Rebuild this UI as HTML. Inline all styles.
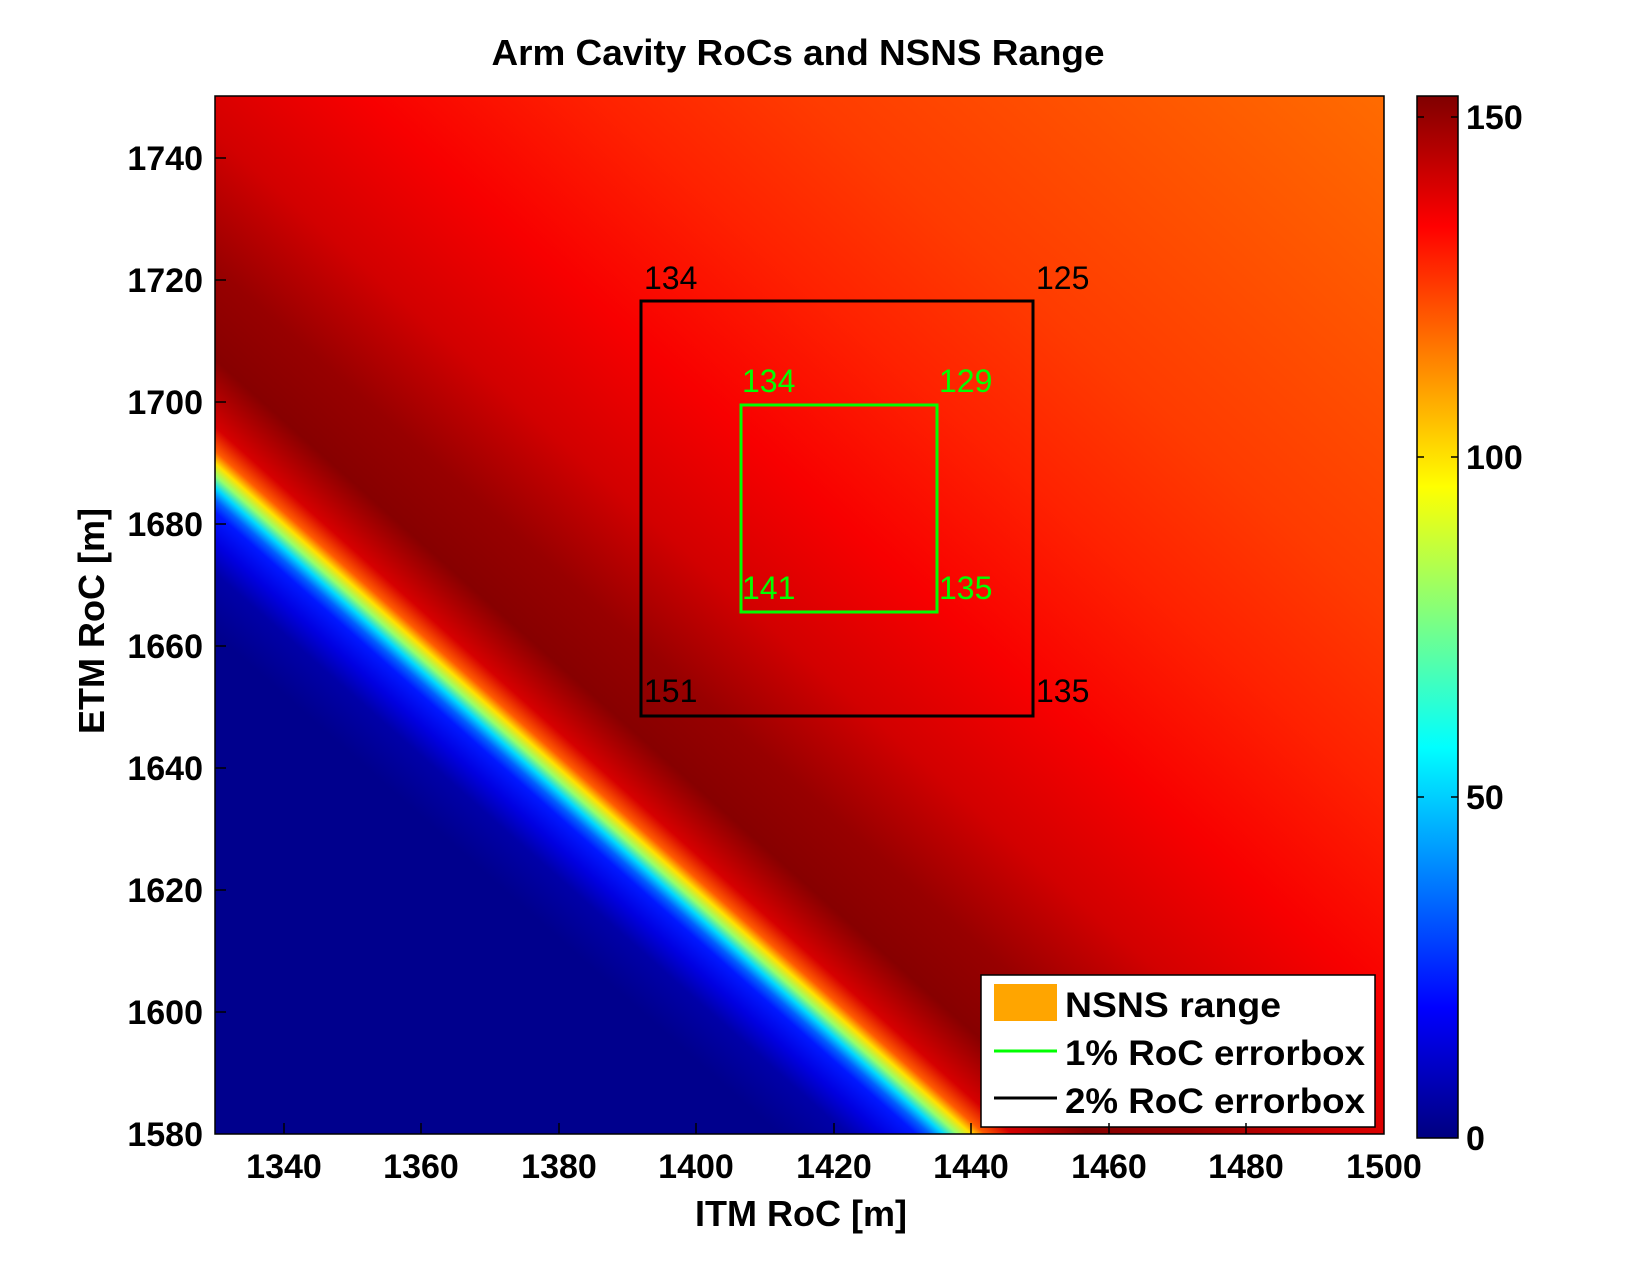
<!DOCTYPE html>
<html><head><meta charset="utf-8"><style>html,body{margin:0;padding:0;background:#fff}svg{display:block}</style></head>
<body>
<svg width="1650" height="1275" viewBox="0 0 1650 1275" xmlns="http://www.w3.org/2000/svg" font-family="Liberation Sans, Arial, sans-serif">
<defs>
<linearGradient id="hm" gradientUnits="userSpaceOnUse" x1="215" y1="634" x2="1033" y2="-288">
<stop offset="0" stop-color="#00008d"/>
<stop offset="0.0370" stop-color="#0000a8"/>
<stop offset="0.0556" stop-color="#0000e0"/>
<stop offset="0.0741" stop-color="#0018ff"/>
<stop offset="0.0815" stop-color="#0060ff"/>
<stop offset="0.0889" stop-color="#00d8ff"/>
<stop offset="0.0963" stop-color="#97ff69"/>
<stop offset="0.1037" stop-color="#ffe100"/>
<stop offset="0.1111" stop-color="#ff5c00"/>
<stop offset="0.1259" stop-color="#d60000"/>
<stop offset="0.1667" stop-color="#870000"/>
<stop offset="0.2222" stop-color="#980000"/>
<stop offset="0.3037" stop-color="#d20000"/>
<stop offset="0.4074" stop-color="#f80000"/>
<stop offset="0.5296" stop-color="#ff2100"/>
<stop offset="0.6444" stop-color="#ff3b00"/>
<stop offset="0.9556" stop-color="#ff6b00"/>
<stop offset="1" stop-color="#ff7000"/>
</linearGradient>
<linearGradient id="cb" x1="0" y1="1" x2="0" y2="0">
<stop offset="0" stop-color="#000080"/>
<stop offset="0.125" stop-color="#0000ff"/>
<stop offset="0.375" stop-color="#00ffff"/>
<stop offset="0.625" stop-color="#ffff00"/>
<stop offset="0.875" stop-color="#ff0000"/>
<stop offset="1" stop-color="#800000"/>
</linearGradient>
</defs>
<text x="798" y="65" font-size="36" font-weight="bold" text-anchor="middle" textLength="613" lengthAdjust="spacingAndGlyphs">Arm Cavity RoCs and NSNS Range</text>
<rect x="215" y="96" width="1169" height="1038" fill="url(#hm)"/>
<rect x="215" y="96" width="1169" height="1038" fill="none" stroke="#000" stroke-width="1.5"/>
<rect x="641" y="301" width="392" height="415" fill="none" stroke="#000" stroke-width="3"/>
<rect x="741" y="405" width="196" height="207" fill="none" stroke="#00ff00" stroke-width="3"/>
<g font-size="32">
<text x="644" y="289">134</text><text x="1036" y="289">125</text>
<text x="644" y="702">151</text><text x="1036" y="702">135</text>
<g fill="#00ff00"><text x="742" y="392">134</text><text x="939" y="392">129</text>
<text x="742" y="599">141</text><text x="939" y="599">135</text></g>
</g>
<rect x="981" y="975" width="394" height="152" fill="#fff" stroke="#000" stroke-width="1.5"/>
<rect x="994" y="984" width="63" height="37" fill="#ffa500"/>
<line x1="994" y1="1051" x2="1057" y2="1051" stroke="#00ff00" stroke-width="3"/>
<line x1="994" y1="1098" x2="1057" y2="1098" stroke="#000" stroke-width="3"/>
<g font-size="35" font-weight="bold">
<text x="1065" y="1017" textLength="216" lengthAdjust="spacingAndGlyphs">NSNS range</text>
<text x="1065" y="1065" textLength="300" lengthAdjust="spacingAndGlyphs">1% RoC errorbox</text>
<text x="1065" y="1113" textLength="300" lengthAdjust="spacingAndGlyphs">2% RoC errorbox</text>
</g>
<g stroke="#000" stroke-width="1.5">
<line x1="284" y1="1134" x2="284" y2="1123"/><line x1="421" y1="1134" x2="421" y2="1123"/><line x1="559" y1="1134" x2="559" y2="1123"/><line x1="696" y1="1134" x2="696" y2="1123"/><line x1="834" y1="1134" x2="834" y2="1123"/><line x1="971" y1="1134" x2="971" y2="1123"/><line x1="1109" y1="1134" x2="1109" y2="1123"/><line x1="1246" y1="1134" x2="1246" y2="1123"/>
<line x1="215" y1="158" x2="226" y2="158"/><line x1="215" y1="280" x2="226" y2="280"/><line x1="215" y1="402" x2="226" y2="402"/><line x1="215" y1="524" x2="226" y2="524"/><line x1="215" y1="646" x2="226" y2="646"/><line x1="215" y1="768" x2="226" y2="768"/><line x1="215" y1="890" x2="226" y2="890"/><line x1="215" y1="1012" x2="226" y2="1012"/>
</g>
<g font-size="34" font-weight="bold" text-anchor="middle">
<text x="284" y="1178">1340</text><text x="421" y="1178">1360</text><text x="559" y="1178">1380</text><text x="696" y="1178">1400</text><text x="834" y="1178">1420</text><text x="971" y="1178">1440</text><text x="1109" y="1178">1460</text><text x="1246" y="1178">1480</text><text x="1384" y="1178">1500</text>
<text x="801" y="1226" font-size="36">ITM RoC [m]</text>
<text transform="translate(104,621) rotate(-90)" font-size="36">ETM RoC [m]</text>
</g>
<g font-size="34" font-weight="bold" text-anchor="end">
<text x="203" y="170">1740</text><text x="203" y="292">1720</text><text x="203" y="414">1700</text><text x="203" y="536">1680</text><text x="203" y="658">1660</text><text x="203" y="780">1640</text><text x="203" y="902">1620</text><text x="203" y="1024">1600</text><text x="203" y="1146">1580</text>
</g>
<rect x="1417" y="96" width="41" height="1042" fill="url(#cb)" stroke="#000" stroke-width="1.5"/>
<g stroke="#000" stroke-width="1.5">
<line x1="1417" y1="117" x2="1424" y2="117"/><line x1="1451" y1="117" x2="1458" y2="117"/>
<line x1="1417" y1="457" x2="1424" y2="457"/><line x1="1451" y1="457" x2="1458" y2="457"/>
<line x1="1417" y1="797" x2="1424" y2="797"/><line x1="1451" y1="797" x2="1458" y2="797"/>
</g>
<g font-size="34" font-weight="bold">
<text x="1466" y="129">150</text><text x="1466" y="469">100</text><text x="1466" y="809">50</text><text x="1466" y="1150">0</text>
</g>
</svg>
</body></html>
